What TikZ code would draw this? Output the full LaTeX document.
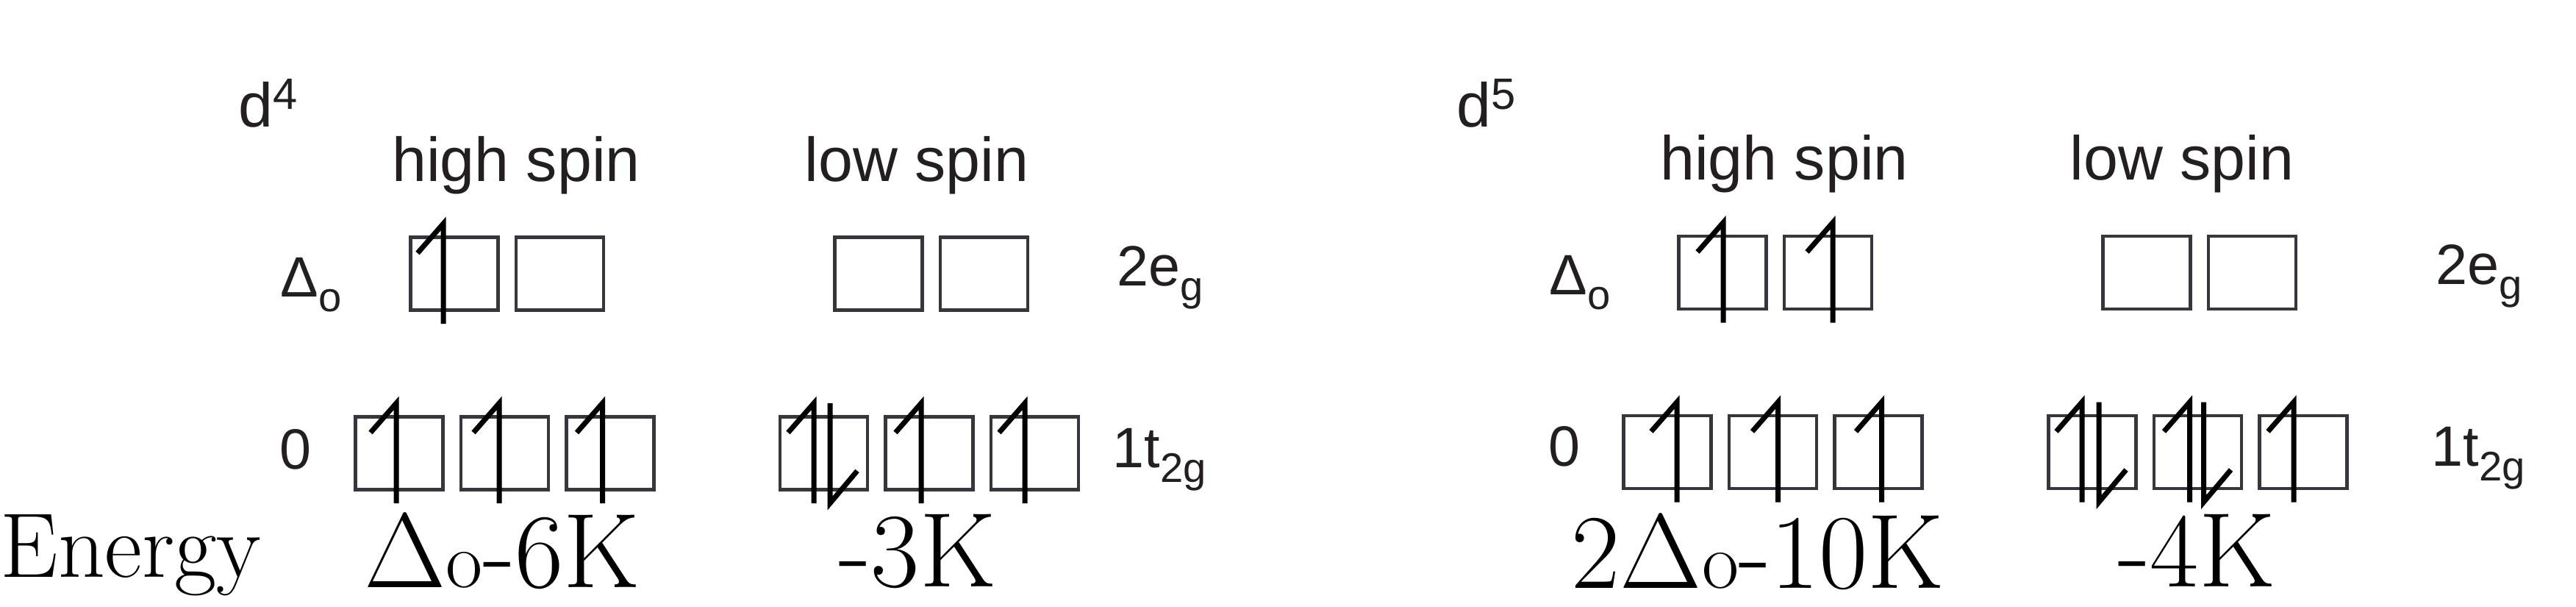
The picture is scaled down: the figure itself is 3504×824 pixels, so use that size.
\documentclass[tikz,border=0pt]{standalone}
\usepackage{fix-cm}
\usepackage{fontspec}
\newfontfamily\helv{Liberation Sans}
\usepackage{tikz}
\usetikzlibrary{positioning, calc}
\definecolor{ink}{HTML}{231F20}
\definecolor{boxline}{HTML}{36363C}
\newcommand{\sps}[1]{\raisebox{2.4mm}{\fontsize{17}{17}\selectfont #1}}
\newcommand{\sbs}[1]{\raisebox{-2mm}{\fontsize{16}{16}\selectfont #1}}
\newcommand{\smo}{{\fontsize{31}{31}\selectfont o}}

\begin{document}
\begin{tikzpicture}[x=0.1mm, y=-0.1mm, node distance=1.435cm, on grid,
  orb/.style={draw=boxline, line width=0.45mm, minimum width=1.19cm, minimum height=0.99cm, inner sep=0pt, outer sep=0pt},
  spin/.style={line width=0.7mm, black},
  head/.style={font=\helv\fontsize{24}{28}\selectfont, text=ink, inner sep=0pt, anchor=base},
  lvl/.style={font=\helv\fontsize{22}{26}\selectfont, text=ink, inner sep=0pt, anchor=base west},
  nrg/.style={font=\fontsize{41}{44}\selectfont, inner sep=0pt, anchor=base}]
  \useasboundingbox (0,0) rectangle (3504,824);

  % d4
  \node[head, anchor=base west] (d4) at (324,172) {d\sps{4}};
  \node[head] (hs4) at (702,246) {high spin};
  \node[head] (ls4) at (1247,246) {low spin};
  \node[lvl] (dl4) at (381,403) {Δ\sbs{o}};
  \node[lvl] (z4) at (380,637) {0};
  \node[lvl] (eg4) at (1519,388) {2e\sbs{g}};
  \node[lvl] (tg4) at (1513,635) {1t\sbs{2g}};

  \node[orb] (he1) at (618,372) {};
  \node[orb] (he2) [right=of he1] {};
  \node[orb] (le1) at (1195,372) {};
  \node[orb] (le2) [right=of le1] {};
  \node[orb] (ht1) at (543,616) {};
  \node[orb] (ht2) [right=of ht1] {};
  \node[orb] (ht3) [right=of ht2] {};
  \node[orb] (lt1) at (1120.5,616) {};
  \node[orb] (lt2) [right=of lt1] {};
  \node[orb] (lt3) [right=of lt2] {};

  % d5
  \node[head, anchor=base west] (d5) at (1981,172) {d\sps{5}};
  \node[head] (hs5) at (2427,244) {high spin};
  \node[head] (ls5) at (2968,244) {low spin};
  \node[lvl] (dl5) at (2107,400) {Δ\sbs{o}};
  \node[lvl] (z5) at (2106,633) {0};
  \node[lvl] (eg5) at (3313,386) {2e\sbs{g}};
  \node[lvl] (tg5) at (3307,633) {1t\sbs{2g}};

  \node[orb] (fhe1) at (2343,370.5) {};
  \node[orb] (fhe2) [right=of fhe1] {};
  \node[orb] (fle1) at (2920,370.5) {};
  \node[orb] (fle2) [right=of fle1] {};
  \node[orb] (fht1) at (2268,614.5) {};
  \node[orb] (fht2) [right=of fht1] {};
  \node[orb] (fht3) [right=of fht2] {};
  \node[orb] (flt1) at (2846,614.5) {};
  \node[orb] (flt2) [right=of flt1] {};
  \node[orb] (flt3) [right=of flt2] {};

  % electrons
  \foreach \b/\dx in {he1/-15, ht1/-4, ht2/-7.5, ht3/-10.5, lt1/-13.5, lt2/-11, lt3/-13.5,
                      fhe1/1, fhe2/6.5, fht1/13, fht2/7, fht3/4.5, flt1/-14, flt2/-11, flt3/-13}
    \draw[spin] ($(\b)+(\dx-35,-28)$) -- ++(35,-40) -- ++(0,136);
  \foreach \b/\dx in {lt1/8.5, flt1/9, flt2/8}
    \draw[spin] ($(\b)+(\dx,-68)$) -- ++(0,136) -- ++(37,-44);

  % energies
  \node[font=\fontsize{35.5}{38}\selectfont, inner sep=0pt, anchor=base west] (en) at (0,784) {Energy};
  \node[nrg] (hsE4) at (683,798) {$\Delta$\smo-6K};
  \node[nrg] (lsE4) at (1248,797) {-3K};
  \node[nrg] (hsE5) at (2391,799) {2$\Delta$\smo-10K};
  \node[nrg] (lsE5) at (2988,797) {-4K};
\end{tikzpicture}
\end{document}
